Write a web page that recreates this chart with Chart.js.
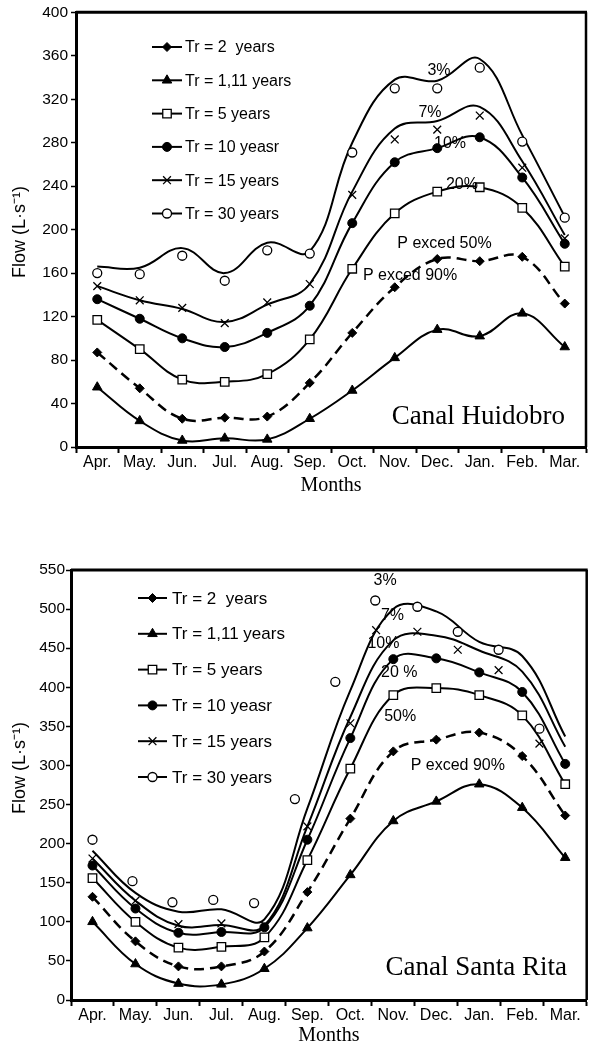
<!DOCTYPE html>
<html>
<head>
<meta charset="utf-8">
<script src="https://cdn.jsdelivr.net/npm/chart.js@4.4.0/dist/chart.umd.min.js"></script>
<style>
html, body { margin: 0; padding: 0; background: #fff; }
#wrap1 { position: absolute; left: 0; top: 0; width: 594px; height: 505px; }
#wrap2 { position: absolute; left: 0; top: 540px; width: 594px; height: 505px; }
</style>
</head>
<body>
<div id="wrap1"><canvas id="huidobro"></canvas></div>
<div id="wrap2"><canvas id="santarita"></canvas></div>
<script>
var months = ['Apr.', 'May.', 'Jun.', 'Jul.', 'Aug.', 'Sep.', 'Oct.', 'Nov.', 'Dec.', 'Jan.', 'Feb.', 'Mar.'];
var seriesNames = ['Tr = 2  years', 'Tr = 1,11 years', 'Tr = 5 years', 'Tr = 10 yeasr', 'Tr = 15 years', 'Tr = 30 years'];

// Canal Huidobro - fitted curves
var huiTr2 = [87, 54, 26, 27, 28, 59, 105, 147, 173, 171, 175, 132];
var huiTr111 = [55, 24, 6, 8, 7, 26, 52, 82, 108, 102, 123, 92];
var huiTr5 = [117, 90, 62, 60, 67, 99, 164, 215, 235, 239, 220, 166];
var huiTr10 = [136, 118, 100, 92, 105, 130, 206, 262, 275, 285, 248, 187];
var huiTr15 = [148, 135, 127, 115, 131, 150, 235, 293, 300, 313, 263, 195];
var huiTr30 = [166, 165, 183, 160, 188, 180, 280, 338, 337, 357, 287, 212];
// Canal Huidobro - observed points where they leave the curve
var huiTr15Pts = [148, 135, 128, 114, 133, 150, 232, 283, 292, 305, 257, 192];
var huiTr30Pts = [160, 159, 176, 153, 181, 178, 271, 330, 330, 349, 281, 211];
var huiTicks = [0, 40, 80, 120, 160, 200, 240, 280, 320, 360, 400];
var huiNotes = ['3%', '7%', '10%', '20%', 'P exced 50%', 'P exced 90%'];
var huiNoteX = [8.04, 7.83, 8.3, 8.58, 8.17, 7.36];
var huiNoteY = [346, 308, 279, 241, 187, 158];

// Canal Santa Rita - fitted curves
var srTr2 = [132, 75, 43, 43, 62, 138, 232, 318, 333, 342, 312, 236];
var srTr111 = [100, 46, 21, 20, 40, 92, 160, 229, 254, 276, 246, 182];
var srTr5 = [156, 100, 67, 68, 80, 179, 296, 390, 399, 390, 364, 276];
var srTr10 = [172, 117, 86, 87, 93, 205, 335, 436, 437, 419, 394, 302];
var srTr15 = [181, 127, 95, 96, 95, 222, 362, 460, 466, 447, 420, 324];
var srTr30 = [191, 137, 113, 116, 103, 245, 396, 500, 497, 458, 440, 337];
// Canal Santa Rita - observed points (month position, value)
var srTr15Pts = [181, 127, 97, 98, 96, 222, 354, 473, 471, 448, 422, 328];
var srTr15PtsAt = [0, 1, 2, 3, 4, 5, 6, 6.6, 7.56, 8.5, 9.45, 10.4];
var srTr30Pts = [205, 152, 125, 128, 124, 257, 407, 511, 503, 471, 448, 347];
var srTr30PtsAt = [0, 0.93, 1.86, 2.81, 3.76, 4.71, 5.65, 6.58, 7.56, 8.5, 9.45, 10.4];
var srTicks = [0, 50, 100, 150, 200, 250, 300, 350, 400, 450, 500, 550];
var srNotes = ['3%', '7%', '10%', '20 %', '50%', 'P exced 90%'];
var srNoteX = [6.81, 6.98, 6.77, 7.14, 7.16, 8.5];
var srNoteY = [537, 492, 456, 419, 363, 300];

var styles = [
  { shape: 'rectRot', r: 4.5, fill: '#000', bw: 1, dash: [10, 6], lw: 2.5 },
  { shape: 'triangle', r: 5.5, fill: '#000', bw: 1, dash: [], lw: 2 },
  { shape: 'rect', r: 6, fill: '#fff', bw: 1.3, dash: [], lw: 2 },
  { shape: 'circle', r: 4.5, fill: '#000', bw: 1, dash: [], lw: 2 },
  { shape: 'crossRot', r: 5.5, fill: '#000', bw: 1.3, dash: [], lw: 2 },
  { shape: 'circle', r: 4.5, fill: '#fff', bw: 1.3, dash: [], lw: 2 }
];

Chart.defaults.font.family = "'Liberation Sans', Arial, sans-serif";
Chart.defaults.color = '#000';

function makeDatasets(curves, pts, ptsAt) {
  var ds = [];
  curves.forEach(function (c, i) {
    var st = styles[i];
    var p = pts[i] || c;
    var at = ptsAt[i];
    ds.push({
      label: seriesNames[i], data: c, xAxisID: 'x',
      borderColor: '#000', borderWidth: st.lw, borderDash: st.dash,
      tension: 0.4, pointRadius: 0, fill: false, order: 2
    });
    ds.push({
      label: seriesNames[i] + ' obs',
      data: p.map(function (v, j) { return { x: at ? at[j] : j, y: v }; }),
      xAxisID: 'xl', showLine: false,
      pointStyle: st.shape, pointRadius: st.r,
      pointBackgroundColor: st.fill, pointBorderColor: '#000', pointBorderWidth: st.bw,
      order: 1
    });
  });
  return ds;
}

function drawMarker(ctx, st, x, y) {
  var r = st.r, s;
  ctx.save();
  ctx.fillStyle = st.fill;
  ctx.strokeStyle = '#000';
  ctx.lineWidth = st.bw;
  ctx.beginPath();
  if (st.shape === 'circle') {
    ctx.arc(x, y, r, 0, Math.PI * 2);
  } else if (st.shape === 'rect') {
    s = r * Math.SQRT1_2;
    ctx.rect(x - s, y - s, 2 * s, 2 * s);
  } else if (st.shape === 'rectRot') {
    ctx.moveTo(x, y - r); ctx.lineTo(x + r, y); ctx.lineTo(x, y + r); ctx.lineTo(x - r, y); ctx.closePath();
  } else if (st.shape === 'triangle') {
    ctx.moveTo(x, y - r); ctx.lineTo(x + r * 0.866, y + r * 0.5); ctx.lineTo(x - r * 0.866, y + r * 0.5); ctx.closePath();
  } else if (st.shape === 'crossRot') {
    s = r * Math.SQRT1_2;
    ctx.moveTo(x - s, y - s); ctx.lineTo(x + s, y + s);
    ctx.moveTo(x + s, y - s); ctx.lineTo(x - s, y + s);
    ctx.stroke(); ctx.restore(); return;
  }
  ctx.fill();
  ctx.stroke();
  ctx.restore();
}

function overlay(cfg) {
  return {
    id: 'overlay',
    afterDatasetsDraw: function (chart) {
      var ctx = chart.ctx, a = chart.chartArea;
      var xs = chart.scales.xl, ys = chart.scales.y;
      ctx.save();
      ctx.strokeStyle = '#000';
      ctx.lineWidth = 3;
      ctx.beginPath(); ctx.moveTo(a.left, a.top); ctx.lineTo(a.right + 1, a.top); ctx.stroke();
      ctx.lineWidth = 2.5;
      ctx.beginPath(); ctx.moveTo(a.right, a.top); ctx.lineTo(a.right, a.bottom); ctx.stroke();

      ctx.fillStyle = '#000';
      ctx.font = "16px 'Liberation Sans', Arial, sans-serif";
      ctx.textAlign = 'center';
      ctx.textBaseline = 'middle';
      for (var i = 0; i < cfg.notes.length; i++) {
        ctx.fillText(cfg.notes[i], xs.getPixelForValue(cfg.noteX[i]), ys.getPixelForValue(cfg.noteY[i]));
      }

      // y axis title
      ctx.save();
      ctx.translate(20, cfg.yTitleY);
      ctx.rotate(-Math.PI / 2);
      ctx.font = "18px 'Liberation Sans', Arial, sans-serif";
      ctx.fillText('Flow (L\u00b7s\u207b\u00b9)', 0, 0);
      ctx.restore();

      ctx.font = "27px 'Liberation Serif', 'Times New Roman', serif";
      ctx.textAlign = 'right';
      ctx.fillText(cfg.title, cfg.titleX, cfg.titleY);

      var lg = cfg.legend;
      ctx.font = lg.font + "px 'Liberation Sans', Arial, sans-serif";
      ctx.textAlign = 'left';
      for (var k = 0; k < seriesNames.length; k++) {
        var y = lg.y0 + k * lg.dy;
        ctx.lineWidth = 2;
        ctx.setLineDash([]);
        ctx.beginPath(); ctx.moveTo(lg.x0, y); ctx.lineTo(lg.x0 + lg.len, y); ctx.stroke();
        drawMarker(ctx, styles[k], lg.x0 + lg.len / 2, y);
        ctx.fillStyle = '#000';
        ctx.fillText(seriesNames[k], lg.textX, y + 1);
      }
      ctx.restore();
    }
  };
}

function makeChart(id, curves, pts, ptsAt, ticks, yWidth, xHeight, pad, titlePadBottom, tickPad, cfg) {
  return new Chart(document.getElementById(id), {
    type: 'line',
    data: { labels: months, datasets: makeDatasets(curves, pts, ptsAt) },
    options: {
      responsive: true,
      maintainAspectRatio: false,
      animation: false,
      devicePixelRatio: 1,
      layout: { padding: pad },
      plugins: { legend: { display: false }, tooltip: { enabled: false } },
      scales: {
        x: {
          type: 'category', offset: true,
          grid: { display: true, offset: true, drawOnChartArea: false, drawTicks: true, tickLength: 6, tickWidth: 2, tickColor: '#000' },
          border: { display: true, color: '#000', width: 3 },
          ticks: { font: { size: 16 }, color: '#000', padding: 0, maxRotation: 0, autoSkip: false },
          title: { display: true, text: 'Months', color: '#000', font: { family: "'Liberation Serif', 'Times New Roman', serif", size: 20 }, padding: { top: 0, bottom: titlePadBottom } },
          afterFit: function (s) { s.height = xHeight; }
        },
        xl: { type: 'linear', display: false, min: -0.5, max: 11.5 },
        y: {
          min: ticks[0], max: ticks[ticks.length - 1],
          afterBuildTicks: function (s) { s.ticks = ticks.map(function (v) { return { value: v }; }); },
          grid: { display: true, drawOnChartArea: false, drawTicks: true, tickLength: 5, tickWidth: 1.5, tickColor: '#000' },
          border: { display: true, color: '#000', width: 3 },
          ticks: { font: { size: 15.5 }, color: '#000', padding: tickPad },
          title: { display: false },
          afterFit: function (s) { s.width = yWidth; }
        }
      }
    },
    plugins: [overlay(cfg)]
  });
}

makeChart('huidobro',
  [huiTr2, huiTr111, huiTr5, huiTr10, huiTr15, huiTr30],
  [null, null, null, null, huiTr15Pts, huiTr30Pts],
  [null, null, null, null, null, null],
  huiTicks, 76, 58, { top: 10, right: 8, bottom: 0, left: 0 }, 7, 3,
  { notes: huiNotes, noteX: huiNoteX, noteY: huiNoteY, title: 'Canal Huidobro', titleX: 565, titleY: 417, yTitleY: 232,
    legend: { x0: 152, y0: 47, dy: 33.3, len: 30, textX: 185, font: 16 } });

makeChart('santarita',
  [srTr2, srTr111, srTr5, srTr10, srTr15, srTr30],
  [null, null, null, null, srTr15Pts, srTr30Pts],
  [null, null, null, null, srTr15PtsAt, srTr30PtsAt],
  srTicks, 71, 45, { top: 30, right: 5, bottom: 0, left: 0 }, -3, 1,
  { notes: srNotes, noteX: srNoteX, noteY: srNoteY, title: 'Canal Santa Rita', titleX: 567, titleY: 428, yTitleY: 228,
    legend: { x0: 138, y0: 58, dy: 35.8, len: 29, textX: 172, font: 17 } });
</script>
</body>
</html>
